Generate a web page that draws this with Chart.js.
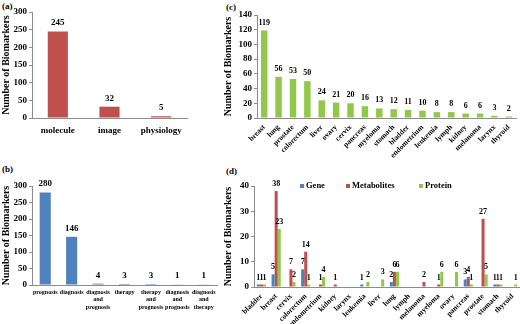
<!DOCTYPE html>
<html>
<head>
<meta charset="utf-8">
<script src="https://cdn.jsdelivr.net/npm/chart.js@4.4.1/dist/chart.umd.min.js"></script>
<style>
  html, body { margin: 0; padding: 0; background: #fff; }
  body { width: 520px; height: 324px; position: relative; overflow: hidden; }
  canvas { position: absolute; }
  .tag { position: absolute; font: bold 9px "Liberation Serif", serif; color: #000; }
</style>
</head>
<body>
<div class="tag" style="left:2px;top:1px">(a)</div>
<div class="tag" style="left:2px;top:164px">(b)</div>
<div class="tag" style="left:226px;top:2px">(c)</div>
<div class="tag" style="left:226px;top:166px">(d)</div>
<canvas id="chartA" width="195" height="160" style="left:0;top:0"></canvas>
<canvas id="chartB" width="225" height="162" style="left:0;top:162px"></canvas>
<canvas id="chartC" width="298" height="162" style="left:222px;top:0"></canvas>
<canvas id="chartD" width="298" height="162" style="left:222px;top:162px"></canvas>
<script>
// (a) tipo de biomarcador
const typeLabels = ['molecule', 'image', 'physiology'];
const typeCounts = [245, 32, 5];

// (b) uso clinico
const usageLabels = ['prognosis', 'diagnosis', ['diagnosis', 'and', 'prognosis'], 'therapy',
  ['therapy', 'and', 'prognosis'], ['diagnosis', 'and', 'prognosis'], ['diagnosis', 'and', 'therapy']];
const usageCounts = [280, 146, 4, 3, 3, 1, 1];

// (c) por tipo de cancer
const cancerLabels = ['breast', 'lung', 'prostate', 'colorectum', 'liver', 'ovary', 'cervix', 'pancreas',
  'myeloma', 'stomach', 'bladder', 'endometrium', 'leukemia', 'lymph', 'kidney', 'melanoma', 'larynx', 'thyroid'];
const cancerCounts = [119, 56, 53, 50, 24, 21, 20, 16, 13, 12, 11, 10, 8, 8, 6, 6, 3, 2];

// (d) por cancer y clase molecular
const organLabels = ['bladder', 'breast', 'cervix', 'colorectum', 'endometrium', 'kidney', 'larynx', 'leukemia',
  'liver', 'lung', 'lymph', 'melanoma', 'myeloma', 'ovary', 'pancreas', 'prostate', 'stomach', 'thyroid'];
const geneCounts =       [1, 5, 0, 7, 0, 0, 0, 1, 0, 2, 0, 0, 0, 0, 3, 0, 1, 0];
const metaboliteCounts = [1, 38, 7, 14, 1, 1, 0, 0, 0, 6, 0, 2, 1, 0, 4, 27, 1, 0];
const proteinCounts =    [1, 23, 2, 1, 4, 0, 0, 2, 3, 6, 0, 0, 6, 6, 1, 5, 1, 1];

const FONT = '"Liberation Serif", "Times New Roman", serif';
const RED = '#C0504D';
const BLUE = '#4F81BD';
const GREEN = '#92C84A';
const AXIS = '#8c8c8c';

Chart.defaults.font.family = FONT;
Chart.defaults.font.weight = 'bold';
Chart.defaults.color = '#000';

// numeros encima de las barras
const valueLabels = {
  id: 'valueLabels',
  afterDatasetsDraw(chart, args, opts) {
    const ctx = chart.ctx;
    ctx.save();
    ctx.font = 'bold ' + opts.size + 'px ' + FONT;
    ctx.fillStyle = '#000';
    ctx.textAlign = 'center';
    ctx.textBaseline = 'bottom';
    chart.data.datasets.forEach((ds, i) => {
      chart.getDatasetMeta(i).data.forEach((bar, j) => {
        const v = ds.data[j];
        if (!v) return;
        ctx.fillText(String(v), bar.x, bar.y - opts.gap);
      });
    });
    ctx.restore();
  }
};

// leyenda dibujada dentro del area (como en Excel)
const insideLegend = {
  id: 'insideLegend',
  afterDraw(chart, args, opts) {
    const ctx = chart.ctx;
    ctx.save();
    ctx.font = 'bold ' + opts.size + 'px ' + FONT;
    ctx.textBaseline = 'middle';
    ctx.textAlign = 'left';
    chart.data.datasets.forEach((ds, i) => {
      const x = opts.xs[i];
      ctx.fillStyle = ds.backgroundColor;
      ctx.fillRect(x, opts.y - 2, 4, 4);
      ctx.fillStyle = '#000';
      ctx.fillText(ds.label, x + 6, opts.y);
    });
    ctx.restore();
  }
};

function yAxis(max, step, width) {
  return {
    min: 0,
    max: max,
    ticks: { stepSize: step, font: { size: 9, weight: 'bold' }, color: '#000', padding: 2 },
    grid: { display: true, drawOnChartArea: false, drawTicks: true, tickLength: 3, color: AXIS },
    border: { color: AXIS },
    title: { display: true, text: 'Number of Biomarkers', font: { size: 10, weight: 'bold' }, color: '#000', padding: 0 },
    afterFit: (scale) => { scale.width = width; }
  };
}

function xAxis(height, fontSize, rotate, lineHeight, pad, ticks) {
  const grid = ticks ? { display: false } : { display: false, drawTicks: false, tickLength: 0 };
  return {
    ticks: {
      font: { size: fontSize, weight: 'bold', lineHeight: lineHeight },
      color: '#000',
      autoSkip: false,
      maxRotation: rotate,
      minRotation: rotate,
      padding: pad
    },
    grid: grid,
    border: { color: AXIS },
    afterFit: (scale) => { scale.height = height; }
  };
}

function baseOptions(padding, x, y, labelSize, labelGap) {
  return {
    responsive: false,
    animation: false,
    layout: { padding: padding },
    plugins: {
      legend: { display: false },
      tooltip: { enabled: false },
      valueLabels: { size: labelSize, gap: labelGap }
    },
    scales: { x: x, y: y }
  };
}

// (a)
new Chart(document.getElementById('chartA'), {
  type: 'bar',
  data: {
    labels: typeLabels,
    datasets: [{ data: typeCounts, backgroundColor: RED, barPercentage: 0.39, categoryPercentage: 1 }]
  },
  options: baseOptions({ top: 12, right: 8, left: 0, bottom: 0 },
    xAxis(42, 9, 0, 1.2, 7, false), yAxis(300, 50, 32), 9, 4),
  plugins: [valueLabels]
});

// (b)
new Chart(document.getElementById('chartB'), {
  type: 'bar',
  data: {
    labels: usageLabels,
    datasets: [{ data: usageCounts, backgroundColor: BLUE, barPercentage: 0.42, categoryPercentage: 1 }]
  },
  options: baseOptions({ top: 24, right: 8, left: 0, bottom: 0 },
    xAxis(39, 6, 0, 1.2, 4, false), yAxis(300, 50, 32), 9, 4),
  plugins: [valueLabels]
});

// (c)
new Chart(document.getElementById('chartC'), {
  type: 'bar',
  data: {
    labels: cancerLabels,
    datasets: [{ data: cancerCounts, backgroundColor: GREEN, barPercentage: 0.45, categoryPercentage: 1 }]
  },
  options: baseOptions({ top: 15, right: 4, left: 0, bottom: 0 },
    xAxis(44, 7.5, 45, 1.2, -3, true), yAxis(140, 20, 35), 8, 4),
  plugins: [valueLabels]
});

// (d)
const optsD = baseOptions({ top: 24, right: 0, left: 0, bottom: 0 },
  xAxis(37, 7.5, 45, 1.2, -3, true), yAxis(40, 5, 32), 8, 3);
optsD.plugins.insideLegend = { size: 8.5, y: 24, xs: [78, 124, 197] };
new Chart(document.getElementById('chartD'), {
  type: 'bar',
  data: {
    labels: organLabels,
    datasets: [
      { label: 'Gene', data: geneCounts, backgroundColor: BLUE, barPercentage: 1, categoryPercentage: 0.62 },
      { label: 'Metabolites', data: metaboliteCounts, backgroundColor: RED, barPercentage: 1, categoryPercentage: 0.62 },
      { label: 'Protein', data: proteinCounts, backgroundColor: GREEN, barPercentage: 1, categoryPercentage: 0.62 }
    ]
  },
  options: optsD,
  plugins: [valueLabels, insideLegend]
});
</script>
</body>
</html>
